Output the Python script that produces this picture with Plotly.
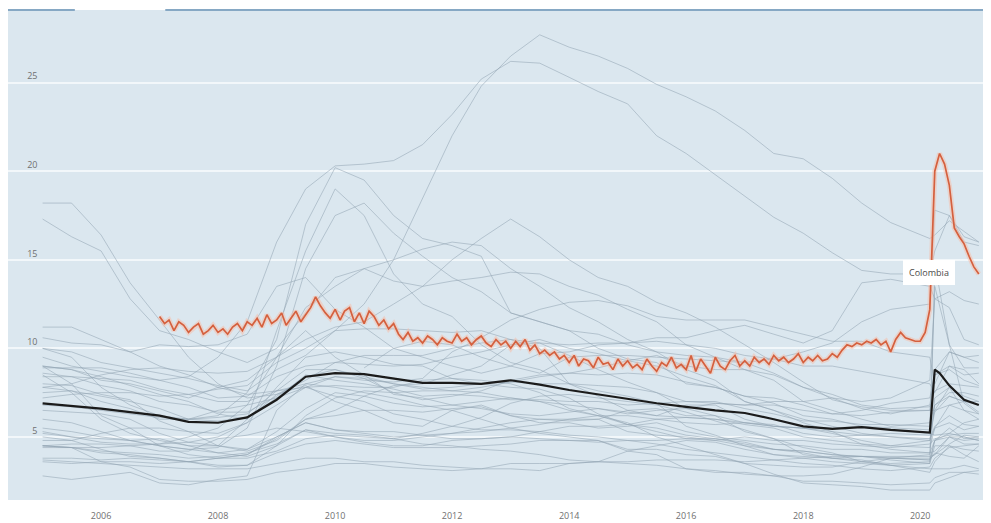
import plotly.graph_objects as go
import pandas as pd

# ---------------- data ----------------
grey_dates = ["2005-01-01", "2005-07-01", "2006-01-01", "2006-07-01", "2007-01-01",
              "2007-07-01", "2008-01-01", "2008-07-01", "2009-01-01", "2009-07-01",
              "2010-01-01", "2010-07-01", "2011-01-01", "2011-07-01", "2012-01-01",
              "2012-07-01", "2013-01-01", "2013-07-01", "2014-01-01", "2014-07-01",
              "2015-01-01", "2015-07-01", "2016-01-01", "2016-07-01", "2017-01-01",
              "2017-07-01", "2018-01-01", "2018-07-01", "2019-01-01", "2019-07-01",
              "2020-03-01", "2020-04-01", "2020-07-01", "2020-10-01", "2021-01-01"]

greece = [10.0, 9.8, 9.2, 8.9, 8.6, 8.3, 7.9, 7.6, 8.8, 9.6,
          11.0, 12.5, 15.0, 18.5, 22.0, 24.8, 26.5, 27.7, 27.0, 26.5,
          25.8, 24.9, 24.2, 23.4, 22.3, 21.0, 20.7, 19.6, 18.2, 17.1,
          16.2, 16.4, 17.2, 16.6, 16.0]
spain = [9.5, 9.0, 8.7, 8.4, 8.2, 8.4, 9.5, 11.5, 16.0, 19.0,
         20.3, 20.4, 20.6, 21.5, 23.2, 25.2, 26.2, 26.1, 25.3, 24.5,
         23.8, 22.0, 21.0, 19.8, 18.6, 17.4, 16.5, 15.4, 14.4, 14.2,
         14.2, 15.5, 17.5, 16.3, 16.0]
portugal = [7.8, 8.0, 8.5, 8.8, 8.9, 8.7, 8.6, 8.7, 9.5, 10.5,
            11.2, 11.5, 12.5, 13.5, 15.0, 16.2, 17.3, 16.3, 15.0, 14.0,
            13.5, 12.6, 12.0, 11.2, 10.2, 9.2, 8.1, 7.1, 6.7, 6.5,
            6.5, 6.5, 7.8, 7.3, 7.0]
ireland = [4.5, 4.4, 4.4, 4.5, 4.6, 5.0, 5.5, 6.8, 9.5, 12.3,
           13.5, 14.5, 15.0, 15.6, 16.0, 15.8, 14.5, 13.5, 12.3, 11.5,
           10.5, 9.8, 8.8, 8.2, 7.0, 6.5, 6.0, 5.6, 5.2, 5.0,
           4.8, 5.5, 6.8, 7.0, 6.8]
latvia = [10.0, 9.5, 7.8, 6.8, 6.2, 6.0, 6.2, 7.5, 10.5, 17.0,
          20.2, 19.5, 17.5, 16.2, 15.8, 15.2, 12.0, 11.5, 11.0, 10.8,
          10.2, 9.8, 9.6, 9.5, 9.2, 8.6, 7.8, 7.2, 6.6, 6.3,
          6.8, 8.5, 8.8, 8.2, 7.9]
estonia = [8.5, 7.5, 6.0, 5.2, 4.8, 4.5, 4.5, 6.0, 11.0, 15.5,
           19.0, 17.5, 14.2, 12.5, 11.8, 10.2, 9.2, 8.8, 8.0, 7.3,
           6.5, 6.2, 6.8, 6.8, 6.0, 5.6, 5.5, 5.2, 4.8, 4.5,
           4.8, 6.8, 7.5, 7.5, 7.3]
lithuania = [9.0, 8.0, 6.2, 5.5, 4.5, 4.3, 4.4, 5.5, 9.0, 14.5,
             17.5, 18.2, 16.5, 15.2, 14.0, 13.2, 12.0, 11.5, 11.0, 10.0,
             9.4, 9.2, 8.0, 7.8, 7.3, 7.2, 6.8, 6.3, 6.2, 6.4,
             6.5, 8.8, 9.8, 9.5, 9.2]
slovakia = [17.3, 16.3, 15.5, 12.8, 11.0, 10.5, 9.8, 9.2, 10.0, 12.0,
            14.0, 14.5, 13.8, 13.5, 13.8, 14.0, 14.3, 14.2, 13.5, 13.0,
            12.2, 11.5, 10.2, 9.5, 8.8, 8.2, 7.0, 6.5, 6.0, 5.6,
            5.8, 6.8, 7.3, 7.0, 7.0]
poland = [18.2, 18.2, 16.4, 13.7, 11.6, 9.5, 8.0, 7.2, 7.4, 8.2,
          9.2, 9.6, 9.6, 9.6, 10.0, 10.3, 10.5, 10.3, 9.6, 8.8,
          8.1, 7.5, 6.6, 6.2, 5.3, 4.9, 4.0, 3.8, 3.7, 3.4,
          3.2, 3.2, 3.2, 3.4, 3.2]
germany = [11.2, 11.2, 10.5, 9.8, 9.0, 8.5, 7.8, 7.4, 7.6, 7.8,
           7.3, 7.0, 6.3, 6.0, 5.6, 5.4, 5.4, 5.3, 5.1, 5.0,
           4.8, 4.6, 4.3, 4.1, 3.9, 3.7, 3.5, 3.4, 3.2, 3.1,
           3.3, 3.8, 4.4, 4.5, 4.6]
france = [8.9, 8.9, 8.9, 8.6, 8.2, 7.8, 7.2, 7.3, 8.4, 9.0,
          9.2, 9.1, 9.0, 9.1, 9.5, 9.8, 10.2, 10.3, 10.2, 10.3,
          10.3, 10.4, 10.2, 10.0, 9.6, 9.4, 9.0, 9.0, 8.7, 8.4,
          8.0, 7.5, 9.0, 8.8, 8.0]
italy = [7.8, 7.6, 7.0, 6.6, 6.0, 6.0, 6.5, 6.8, 7.2, 7.8,
         8.4, 8.2, 8.1, 8.3, 9.8, 10.6, 11.6, 12.2, 12.6, 12.7,
         12.4, 11.8, 11.6, 11.6, 11.6, 11.2, 10.8, 10.4, 10.4, 9.8,
         9.5, 8.0, 9.8, 9.5, 9.6]
turkey = [10.6, 10.3, 10.2, 9.8, 10.2, 10.1, 10.2, 10.8, 13.5, 14.0,
          12.2, 11.2, 10.0, 9.5, 9.0, 8.6, 9.0, 9.7, 9.8, 10.2,
          10.3, 10.6, 10.6, 11.0, 11.3, 10.8, 10.3, 11.0, 13.7, 13.9,
          13.5, 12.8, 13.2, 12.7, 12.5]
usa = [5.3, 5.0, 4.7, 4.6, 4.6, 4.7, 5.0, 5.8, 7.8, 9.5,
       9.8, 9.5, 9.1, 9.0, 8.3, 8.2, 8.0, 7.5, 6.6, 6.2,
       5.7, 5.3, 4.9, 4.9, 4.7, 4.3, 4.1, 3.8, 3.9, 3.7,
       3.5, 14.8, 10.2, 6.9, 6.3]
canada = [6.8, 6.7, 6.5, 6.3, 6.1, 6.0, 5.9, 6.1, 7.2, 8.5,
          8.2, 8.0, 7.7, 7.3, 7.4, 7.3, 7.1, 7.1, 7.0, 7.0,
          6.8, 6.9, 7.0, 7.0, 6.6, 6.3, 5.9, 5.9, 5.7, 5.7,
          5.6, 13.5, 10.2, 8.9, 8.9]
chile = [9.0, 8.8, 8.2, 8.0, 7.6, 7.2, 7.8, 8.2, 9.5, 11.0,
         9.5, 8.5, 7.4, 7.2, 6.8, 6.6, 6.3, 6.2, 6.4, 6.6,
         6.3, 6.5, 6.6, 6.9, 6.8, 7.0, 7.0, 7.2, 7.0, 7.2,
         8.2, 12.8, 12.3, 10.5, 10.2]
costa_rica = [None, None, None, None, None, None, None, None, None, None,
              None, 8.9, 10.0, 10.4, 10.2, 9.5, 9.0, 8.6, 9.5, 9.6,
              9.6, 9.5, 9.4, 9.3, 9.2, 9.4, 9.8, 10.3, 11.5, 12.2,
              12.5, 17.8, 17.5, 16.0, 15.8]
japan = [4.4, 4.4, 4.2, 4.1, 4.0, 3.8, 3.9, 4.1, 4.6, 5.4,
         5.2, 5.1, 4.9, 4.6, 4.5, 4.3, 4.2, 4.0, 3.7, 3.6,
         3.5, 3.4, 3.2, 3.1, 2.9, 2.8, 2.5, 2.5, 2.4, 2.3,
         2.4, 2.7, 3.0, 3.0, 2.9]
korea = [3.7, 3.6, 3.5, 3.4, 3.3, 3.2, 3.2, 3.2, 3.5, 3.8,
         3.8, 3.6, 3.6, 3.4, 3.3, 3.2, 3.2, 3.1, 3.5, 3.6,
         3.6, 3.7, 3.7, 3.7, 3.6, 3.7, 3.8, 3.9, 3.9, 3.8,
         3.7, 4.1, 3.9, 3.8, 4.5]
norway = [4.5, 4.4, 3.6, 3.3, 2.6, 2.5, 2.5, 2.6, 3.0, 3.2,
          3.5, 3.5, 3.3, 3.2, 3.1, 3.2, 3.5, 3.5, 3.5, 3.6,
          4.2, 4.5, 4.8, 4.7, 4.3, 4.0, 3.9, 3.8, 3.6, 3.8,
          3.7, 4.8, 5.5, 4.9, 5.0]
switzerland = [4.5, 4.4, 4.1, 4.0, 3.8, 3.6, 3.4, 3.4, 4.1, 4.6,
               4.8, 4.6, 4.4, 4.4, 4.4, 4.5, 4.6, 4.8, 4.8, 4.7,
               4.8, 4.8, 4.9, 4.8, 5.0, 4.8, 4.8, 4.6, 4.5, 4.4,
               4.6, 4.9, 5.1, 5.2, 5.2]
netherlands = [6.0, 5.8, 5.3, 4.8, 4.5, 4.0, 3.8, 3.8, 4.2, 4.9,
               5.1, 5.0, 4.9, 5.2, 5.6, 6.1, 6.9, 7.3, 7.4, 7.2,
               7.0, 6.8, 6.4, 5.9, 5.4, 4.9, 4.4, 4.1, 3.6, 3.4,
               3.0, 3.6, 4.5, 4.0, 3.6]
uk = [4.8, 4.8, 5.2, 5.5, 5.5, 5.3, 5.2, 5.8, 6.8, 7.8,
      7.9, 7.8, 7.8, 8.2, 8.3, 8.0, 7.8, 7.7, 7.2, 6.3,
      5.7, 5.5, 5.1, 4.9, 4.6, 4.3, 4.2, 4.0, 3.9, 3.9,
      3.9, 4.0, 4.6, 5.1, 5.0]
sweden = [7.5, 7.6, 7.3, 7.0, 6.6, 6.0, 6.1, 6.3, 7.6, 8.8,
          8.8, 8.4, 8.0, 7.7, 7.8, 8.0, 8.1, 8.0, 8.0, 7.9,
          7.8, 7.5, 7.0, 6.9, 6.8, 6.8, 6.5, 6.3, 6.5, 6.9,
          7.2, 8.5, 9.0, 8.5, 8.6]
finland = [8.6, 8.4, 7.9, 7.6, 7.0, 6.8, 6.4, 6.4, 7.3, 8.4,
           8.8, 8.3, 8.0, 7.8, 7.6, 7.8, 8.1, 8.4, 8.6, 8.9,
           9.3, 9.6, 9.0, 8.8, 8.8, 8.5, 7.8, 7.4, 6.8, 6.6,
           6.7, 7.6, 8.0, 7.9, 7.8]
denmark = [5.0, 4.8, 4.3, 3.9, 3.8, 3.6, 3.3, 3.4, 4.5, 6.2,
           7.2, 7.6, 7.5, 7.6, 7.6, 7.5, 7.2, 7.0, 6.8, 6.6,
           6.4, 6.2, 6.1, 6.0, 5.8, 5.7, 5.2, 5.0, 5.1, 5.0,
           4.9, 5.6, 6.2, 5.7, 5.6]
austria = [5.5, 5.3, 5.0, 4.8, 4.9, 4.5, 4.1, 3.9, 4.5, 5.4,
           5.0, 4.7, 4.5, 4.5, 4.8, 4.9, 5.0, 5.3, 5.6, 5.6,
           5.7, 6.0, 6.1, 6.0, 5.7, 5.5, 5.0, 4.8, 4.6, 4.5,
           4.4, 5.5, 5.8, 5.4, 5.6]
belgium = [8.4, 8.4, 8.3, 8.2, 7.7, 7.4, 7.0, 7.0, 7.6, 8.0,
           8.4, 8.3, 7.5, 7.1, 7.3, 7.6, 8.2, 8.5, 8.6, 8.5,
           8.6, 8.5, 8.1, 7.8, 7.3, 6.9, 6.2, 6.0, 5.6, 5.4,
           5.2, 5.1, 5.2, 5.8, 6.0]
czechia = [8.0, 7.9, 7.4, 7.1, 5.9, 5.3, 4.5, 4.3, 5.3, 6.6,
           7.5, 7.3, 6.9, 6.7, 6.8, 7.0, 7.2, 7.0, 6.5, 6.2,
           5.8, 5.0, 4.5, 4.0, 3.5, 2.9, 2.4, 2.3, 2.2, 2.0,
           2.0, 2.4, 2.7, 3.0, 3.1]
hungary = [7.2, 7.4, 7.5, 7.5, 7.3, 7.4, 7.7, 7.9, 9.2, 10.0,
           11.0, 11.1, 11.1, 11.0, 10.9, 11.0, 10.5, 10.0, 8.0, 7.6,
           7.3, 6.9, 5.6, 5.1, 4.5, 4.0, 3.8, 3.6, 3.5, 3.4,
           3.5, 4.5, 4.5, 4.3, 4.2]
slovenia = [6.5, 6.4, 6.3, 6.0, 5.2, 4.7, 4.5, 4.2, 4.8, 6.0,
            6.5, 7.3, 7.9, 8.0, 8.5, 9.0, 10.2, 10.5, 10.0, 9.7,
            9.3, 9.0, 8.4, 7.9, 7.0, 6.5, 5.8, 5.3, 4.6, 4.3,
            4.1, 4.8, 5.2, 5.0, 4.8]
australia = [5.2, 5.0, 4.9, 4.8, 4.5, 4.3, 4.1, 4.3, 5.0, 5.8,
             5.4, 5.2, 5.0, 5.1, 5.2, 5.3, 5.5, 5.7, 6.0, 6.2,
             6.2, 6.0, 5.8, 5.7, 5.8, 5.6, 5.5, 5.3, 5.1, 5.2,
             5.1, 6.4, 7.3, 7.0, 6.4]
new_zealand = [3.8, 3.8, 3.7, 3.8, 3.7, 3.6, 3.8, 4.0, 4.9, 6.0,
               6.2, 6.5, 6.5, 6.4, 6.6, 6.7, 6.2, 5.8, 5.8, 5.5,
               5.6, 5.8, 5.3, 5.0, 4.8, 4.6, 4.5, 4.3, 4.3, 4.1,
               4.1, 4.2, 5.0, 5.0, 4.8]
mexico = [3.6, 3.5, 3.6, 3.6, 3.5, 3.6, 3.8, 4.0, 5.0, 5.8,
          5.4, 5.3, 5.3, 5.1, 4.9, 4.9, 5.0, 4.9, 4.8, 4.8,
          4.3, 4.3, 4.0, 3.9, 3.5, 3.4, 3.3, 3.3, 3.6, 3.5,
          3.6, 4.8, 5.0, 4.6, 4.6]
israel = [9.0, 8.8, 8.4, 7.9, 7.4, 7.0, 6.3, 6.0, 7.4, 7.9,
          7.0, 6.5, 5.8, 5.6, 6.5, 6.8, 6.2, 6.0, 5.9, 6.0,
          5.3, 5.1, 5.0, 4.8, 4.5, 4.3, 4.2, 4.0, 3.9, 3.8,
          3.8, 4.0, 5.0, 4.8, 4.9]
iceland = [2.8, 2.6, 2.8, 3.0, 2.4, 2.3, 2.6, 2.8, 6.5, 8.0,
           7.8, 7.5, 7.2, 6.8, 6.5, 6.0, 5.5, 5.2, 5.0, 4.8,
           4.2, 4.0, 3.2, 3.0, 3.0, 2.8, 2.8, 2.9, 3.3, 3.8,
           4.0, 7.2, 7.8, 6.5, 6.0]
luxembourg = [4.5, 4.6, 4.6, 4.5, 4.2, 4.2, 4.9, 5.1, 5.5, 5.3,
              5.0, 4.8, 4.8, 5.0, 5.2, 5.5, 5.8, 6.0, 6.0, 6.0,
              6.5, 6.6, 6.2, 6.2, 5.8, 5.6, 5.5, 5.5, 5.6, 5.5,
              5.4, 6.5, 6.8, 6.5, 6.3]

oecd_dates = ["2005-01-01", "2005-07-01", "2006-01-01", "2006-07-01", "2007-01-01",
              "2007-07-01", "2008-01-01", "2008-07-01", "2009-01-01", "2009-07-01",
              "2010-01-01", "2010-07-01", "2011-01-01", "2011-07-01", "2012-01-01",
              "2012-07-01", "2013-01-01", "2013-07-01", "2014-01-01", "2014-07-01",
              "2015-01-01", "2015-07-01", "2016-01-01", "2016-07-01", "2017-01-01",
              "2017-07-01", "2018-01-01", "2018-07-01", "2019-01-01", "2019-07-01",
              "2020-03-01", "2020-04-01", "2020-05-01", "2020-07-01", "2020-10-01",
              "2021-01-01"]
oecd = [6.9, 6.75, 6.6, 6.4, 6.2, 5.85, 5.8, 6.1, 7.1, 8.4,
        8.6, 8.55, 8.3, 8.05, 8.05, 8.0, 8.2, 7.95, 7.65, 7.4,
        7.15, 6.9, 6.7, 6.5, 6.35, 6.0, 5.6, 5.45, 5.55, 5.4,
        5.25, 8.8, 8.6, 7.9, 7.1, 6.8]

colombia_start = "2007-01-01"
colombia_end = "2021-01-01"
colombia = [
    11.8, 11.4, 11.6, 11.0, 11.5, 11.3, 10.9, 11.2, 11.4, 10.8, 11.0, 11.3,  # 2007
    10.9, 11.1, 10.8, 11.2, 11.4, 11.0, 11.5, 11.3, 11.7, 11.2, 11.9, 11.4,  # 2008
    11.6, 12.0, 11.3, 11.7, 12.1, 11.5, 11.9, 12.3, 12.9, 12.4, 12.0, 11.7,  # 2009
    12.2, 11.6, 12.1, 12.3, 11.5, 12.0, 11.4, 12.1, 11.8, 11.3, 11.6, 11.1,  # 2010
    11.4, 10.8, 10.5, 10.9, 10.4, 10.6, 10.3, 10.7, 10.5, 10.2, 10.6, 10.4,  # 2011
    10.3, 10.8, 10.4, 10.6, 10.2, 10.5, 10.7, 10.3, 10.1, 10.5, 10.2, 10.4,  # 2012
    10.0, 10.4, 10.1, 10.5, 9.9, 10.2, 9.7, 9.9, 9.6, 9.8, 9.4, 9.6,        # 2013
    9.2, 9.6, 9.0, 9.4, 9.3, 8.9, 9.5, 9.1, 9.2, 8.8, 9.4, 9.0,             # 2014
    9.3, 8.9, 9.1, 8.8, 9.4, 9.0, 8.7, 9.2, 9.0, 9.5, 8.9, 9.1,             # 2015
    8.8, 9.6, 8.7, 9.4, 9.0, 8.6, 9.5, 9.0, 8.8, 9.3, 9.6, 9.0,             # 2016
    9.3, 9.0, 9.5, 9.2, 9.4, 9.1, 9.6, 9.3, 9.5, 9.2, 9.4, 9.7,             # 2017
    9.2, 9.5, 9.3, 9.6, 9.3, 9.4, 9.7, 9.5, 9.9, 10.2, 10.1, 10.3,          # 2018
    10.2, 10.4, 10.3, 10.5, 10.2, 10.4, 9.8, 10.5, 10.9, 10.6, 10.5, 10.4,  # 2019
    10.4, 10.9, 12.2, 20.0, 21.0, 20.4, 19.2, 16.8, 16.3, 15.9, 15.2, 14.6, # 2020
    14.2,                                                                    # 2021
]

year_ticks = ["2006-01-01", "2008-01-01", "2010-01-01", "2012-01-01",
              "2014-01-01", "2016-01-01", "2018-01-01", "2020-01-01"]
year_labels = ["2006", "2008", "2010", "2012", "2014", "2016", "2018", "2020"]
y_ticks = [5, 10, 15, 20, 25]
label_text = "Colombia"

grey_series = [greece, spain, portugal, ireland, latvia, estonia, lithuania,
               slovakia, poland, germany, france, italy, turkey, usa, canada,
               chile, costa_rica, japan, korea, norway, switzerland, netherlands,
               uk, sweden, finland, denmark, austria, belgium, czechia, hungary,
               slovenia, australia, new_zealand, mexico, israel, iceland, luxembourg]
for s in grey_series:
    assert len(s) == len(grey_dates), len(s)
assert len(oecd) == len(oecd_dates)

colombia_dates = pd.date_range(colombia_start, colombia_end, freq="MS")
assert len(colombia_dates) == len(colombia), (len(colombia_dates), len(colombia))

# ---------------- figure ----------------
fig = go.Figure()
for s in grey_series:
    fig.add_trace(go.Scatter(x=grey_dates, y=s, mode="lines",
                             line=dict(color="rgba(145,164,178,0.55)", width=1),
                             hoverinfo="skip", connectgaps=False))

fig.add_trace(go.Scatter(x=oecd_dates, y=oecd, mode="lines",
                         line=dict(color="#1b1b1b", width=2.2), hoverinfo="skip"))

fig.add_trace(go.Scatter(x=colombia_dates, y=colombia, mode="lines",
                         line=dict(color="rgba(250,185,160,0.45)", width=5),
                         hoverinfo="skip"))
fig.add_trace(go.Scatter(x=colombia_dates, y=colombia, mode="lines",
                         line=dict(color="#d5603e", width=1.7), hoverinfo="skip"))

fig.add_annotation(x="2020-02-25", y=14.3, xref="x", yref="y", text=label_text,
                   showarrow=False, bgcolor="white", bordercolor="white",
                   borderpad=5, font=dict(size=9, color="#4a4a4a", family="Open Sans"))

# top border of the panel (with the gap near the left)
fig.add_shape(type="line", xref="paper", yref="paper", x0=0, x1=0.068, y0=1, y1=1,
              line=dict(color="#86a8c4", width=2))
fig.add_shape(type="line", xref="paper", yref="paper", x0=0.16, x1=1, y0=1, y1=1,
              line=dict(color="#86a8c4", width=2))

# the page body has an 8px margin, so the figure is 8px smaller than the window
fig.update_layout(
    width=983, height=515,
    margin=dict(l=0, r=0, t=2, b=23),
    paper_bgcolor="white",
    plot_bgcolor="#dbe7ef",
    showlegend=False,
    font=dict(family="Open Sans", color="#6b6b6b"),
    xaxis=dict(type="date", range=["2004-05-30", "2021-03-18"],
               tickvals=year_ticks, ticktext=year_labels,
               showgrid=False, zeroline=False, showline=False,
               ticks="outside", ticklen=7, tickcolor="rgba(0,0,0,0)",
               tickfont=dict(size=9, color="#707070")),
    yaxis=dict(range=[1.44, 29.1], tickvals=y_ticks,
               showgrid=True, gridcolor="#f2f7fa", gridwidth=2,
               zeroline=False, showline=False, anchor="free", position=0.03,
               ticks="", ticklabelposition="outside top",
               tickfont=dict(size=9, color="#707070")),
)

fig.write_html("out.html")
